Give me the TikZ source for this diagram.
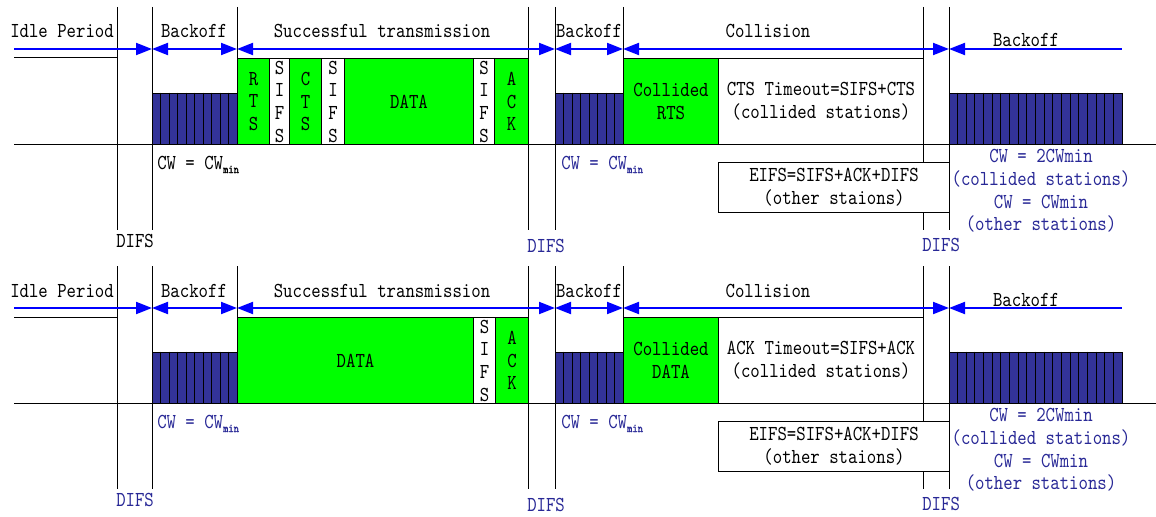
\documentclass[tikz,border=0pt]{standalone}
\usepackage{fontspec}
\newfontfamily\simfont{lmmono10-regular.otf}[FakeStretch=0.84]
\newfontfamily\subfont{lmmono10-regular.otf}[FakeStretch=0.84,FakeBold=1.5]
\usetikzlibrary{arrows.meta}
\definecolor{arrblue}{RGB}{0,0,255}
\definecolor{txtblue}{RGB}{40,40,150}
\definecolor{bofill}{RGB}{51,51,153}
\definecolor{pktgreen}{RGB}{0,255,0}
\tikzset{
  every node/.append style={font=\simfont\fontsize{16}{17}\selectfont, inner sep=0pt},
  tl/.style={line width=0.75pt, black},
  pkt/.style={draw=black, fill=pktgreen, line width=0.75pt, align=center},
  gapbox/.style={draw=black, fill=white, line width=0.75pt, align=center},
  bo/.style={draw=black, fill=bofill, line width=0.75pt},
  tipr/.style={arrblue, line width=1.5pt, arrows={-Triangle[length=12pt,width=9pt]}},
  tipl/.style={arrblue, line width=1.5pt, arrows={Triangle[length=12pt,width=9pt]-}},
  span/.style={arrblue, line width=1.5pt, arrows={Triangle[length=12pt,width=9pt]-Triangle[length=12pt,width=9pt]}},
  lbl/.style={anchor=base},
}
% name, style, x1, y1, x2, y2, text
\newcommand{\bbox}[7]{\node[#2, anchor=north west, minimum width={(#5-#3)*0.75pt}, minimum height={(#6-#4)*0.75pt}] (#1) at (#3,#4) {#7};}
% name, x1, x2, interior lines
\newcommand{\backoff}[4]{%
  \bbox{#1}{bo}{#2}{92.7}{#3}{144}{}
  \foreach \k in {1,...,#4} \draw[tl] ({#2+\k*(#3-#2)/(#4+1)},92.7) -- ({#2+\k*(#3-#2)/(#4+1)},144);
}
\newcommand{\cwmin}{CW = CW\raisebox{-3pt}{\subfont\fontsize{9}{9}\selectfont min}}
% prefix, first DIFS colour, first CW colour, collided text, timeout text
\newcommand{\panel}[5]{%
  \coordinate (#1i0) at (14,49);
  \coordinate (#1i1) at (152,49);
  \coordinate (#1i2) at (237,49);
  \coordinate (#1i3) at (555,49);
  \coordinate (#1i4) at (623,49);
  \coordinate (#1i5) at (949,49);
  \coordinate (#1i6) at (1122,49);
  \draw[tl] (14,58) -- (117,58);
  \draw[tl] (14,144) -- (1156,144);
  \foreach \x in {117,152,528,555,923,949} \draw[tl] (\x,7) -- (\x,230);
  \draw[tl] (237,7) -- (237,58);
  \draw[tl] (623,7) -- (623,58);
  \backoff{#1boA}{152}{237}{9}
  \backoff{#1boB}{555}{623}{7}
  \backoff{#1boC}{949}{1122}{19}
  \bbox{#1col}{pkt}{623}{58}{718}{144}{#4}
  \bbox{#1tmo}{gapbox}{718}{58}{923}{144}{#5\\(collided stations)}
  \bbox{#1eifs}{gapbox}{718}{162}{949}{212}{EIFS=SIFS+ACK+DIFS\\(other staions)}
  \draw[tipr] (#1i0) -- (#1i1);
  \draw[span] (#1i1) -- (#1i2);
  \draw[span] (#1i2) -- (#1i3);
  \draw[span] (#1i3) -- (#1i4);
  \draw[span] (#1i4) -- (#1i5);
  \draw[tipl] (#1i5) -- (#1i6);
  \node[lbl] (#1idle) at (62,38) {Idle Period};
  \node[lbl] (#1bkA) at (194,38) {Backoff};
  \node[lbl] (#1succ) at (382,38) {Successful transmission};
  \node[lbl] (#1bkB) at (589,38) {Backoff};
  \node[lbl] (#1coll) at (768,38) {Collision};
  \node[lbl] (#1bkC) at (1026,47) {Backoff};
  \node[anchor=base west, text=#2] (#1difsA) at (116,247) {DIFS};
  \node[anchor=base west, text=txtblue] (#1difsB) at (527,252) {DIFS};
  \node[anchor=base west, text=txtblue] (#1difsC) at (922,251) {DIFS};
  \node[anchor=base west, text=#3] (#1cwA) at (157,169) {\cwmin};
  \node[anchor=base west, text=txtblue] (#1cwB) at (561,169) {\cwmin};
  \node[align=center, text=txtblue] (#1cwC) at (1041,191) {CW = 2CWmin\\(collided stations)\\CW = CWmin\\(other stations)};
}
\begin{document}
\begin{tikzpicture}[x=0.75pt,y=-0.75pt]
\useasboundingbox (0,0) rectangle (1156,517);
\panel{t}{black}{black}{Collided\\RTS}{CTS Timeout=SIFS+CTS}
\bbox{trts}{pkt}{237}{58}{269}{144}{R\\T\\S}
\bbox{tsifsA}{gapbox}{269}{58}{289}{144}{S\\I\\F\\S}
\bbox{tcts}{pkt}{289}{58}{321}{144}{C\\T\\S}
\bbox{tsifsB}{gapbox}{321}{58}{344}{144}{S\\I\\F\\S}
\bbox{tdata}{pkt}{344}{58}{473}{144}{DATA}
\bbox{tsifsC}{gapbox}{473}{58}{494}{144}{S\\I\\F\\S}
\bbox{tack}{pkt}{494}{58}{528}{144}{A\\C\\K}
\begin{scope}[yshift=-194.25pt]
\panel{b}{txtblue}{txtblue}{Collided\\DATA}{ACK Timeout=SIFS+ACK}
\bbox{bdata}{pkt}{237}{58}{473}{144}{DATA}
\bbox{bsifs}{gapbox}{473}{58}{495}{144}{S\\I\\F\\S}
\bbox{back}{pkt}{495}{58}{528}{144}{A\\C\\K}
\end{scope}
\end{tikzpicture}
\end{document}
